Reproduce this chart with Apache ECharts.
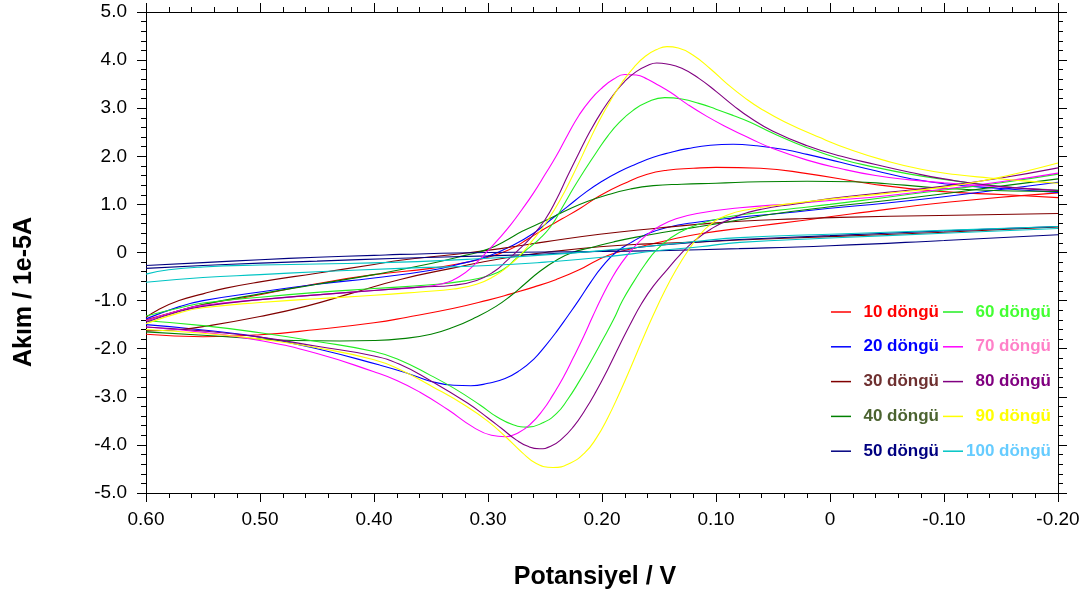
<!DOCTYPE html>
<html>
<head>
<meta charset="utf-8">
<script src="https://cdn.jsdelivr.net/npm/echarts@6/dist/echarts.min.js"></script>
<style>
  html, body { margin: 0; padding: 0; background: #fff; }
  #chart { width: 1088px; height: 596px; }
</style>
</head>
<body>
<div id="chart"></div>
<script>
// Cyclic voltammograms: potential (V) vs current (1e-5 A), cycles 10..100.
// Each cycle: forward sweep 0.60 -> -0.20 V and reverse sweep -0.20 -> 0.60 V.

const cycleNames = ['10 döngü', '20 döngü', '30 döngü', '40 döngü', '50 döngü',
                    '60 döngü', '70 döngü', '80 döngü', '90 döngü', '100 döngü'];
const lineColors = ['#ff0000', '#0000ff', '#800000', '#008000', '#000080',
                    '#22ee22', '#ff00ff', '#800080', '#ffff00', '#00c4c4'];
const labelColors = ['#ff0000', '#0000ff', '#6e3030', '#4b6330', '#000080',
                     '#44ff33', '#ff80c8', '#800080', '#ffff00', '#66ccff'];

// 10 döngü
const c10Fwd = [[0.60,-1.40],[0.57,-1.20],[0.55,-1.08],[0.512,-0.93],[0.453,-0.66],[0.40,-0.46],[0.35,-0.33],[0.318,-0.20],[0.30,-0.10],[0.281,0.06],[0.265,0.28],[0.25,0.50],[0.235,0.70],[0.219,0.92],[0.202,1.18],[0.18,1.44],[0.161,1.62],[0.143,1.71],[0.12,1.75],[0.10,1.77],[0.061,1.75],[0.02,1.64],[-0.038,1.42],[-0.096,1.27],[-0.155,1.20],[-0.20,1.14]];
const c10Rev = [[-0.20,1.24],[-0.105,1.05],[-0.018,0.80],[0.026,0.66],[0.07,0.53],[0.114,0.39],[0.145,0.24],[0.17,0.10],[0.19,-0.02],[0.205,-0.17],[0.22,-0.36],[0.24,-0.56],[0.26,-0.72],[0.28,-0.86],[0.30,-0.99],[0.33,-1.16],[0.372,-1.35],[0.40,-1.46],[0.45,-1.60],[0.50,-1.71],[0.55,-1.75],[0.60,-1.70]];

// 20 döngü
const c20Fwd = [[0.60,-1.38],[0.57,-1.12],[0.55,-1.00],[0.50,-0.82],[0.45,-0.66],[0.40,-0.53],[0.35,-0.37],[0.32,-0.21],[0.30,-0.08],[0.28,0.13],[0.26,0.40],[0.245,0.68],[0.23,0.96],[0.215,1.24],[0.20,1.48],[0.185,1.68],[0.17,1.84],[0.155,1.98],[0.14,2.08],[0.125,2.16],[0.105,2.23],[0.085,2.25],[0.065,2.22],[0.04,2.14],[0.02,2.04],[-0.01,1.87],[-0.04,1.70],[-0.07,1.54],[-0.10,1.43],[-0.15,1.33],[-0.20,1.25]];
const c20Rev = [[-0.20,1.46],[-0.15,1.31],[-0.10,1.16],[-0.05,1.03],[0.00,0.92],[0.04,0.82],[0.08,0.73],[0.12,0.62],[0.143,0.52],[0.16,0.39],[0.175,0.20],[0.188,0.00],[0.20,-0.30],[0.21,-0.62],[0.22,-0.98],[0.23,-1.32],[0.24,-1.65],[0.25,-1.95],[0.26,-2.22],[0.272,-2.45],[0.285,-2.62],[0.30,-2.72],[0.315,-2.77],[0.33,-2.76],[0.35,-2.68],[0.372,-2.50],[0.395,-2.34],[0.45,-2.00],[0.50,-1.76],[0.55,-1.61],[0.60,-1.50]];

// 30 döngü
const c30Fwd = [[0.60,-1.35],[0.59,-1.20],[0.571,-1.00],[0.55,-0.86],[0.53,-0.74],[0.50,-0.61],[0.45,-0.43],[0.40,-0.25],[0.377,-0.16],[0.33,-0.04],[0.289,0.08],[0.25,0.22],[0.202,0.38],[0.15,0.51],[0.114,0.59],[0.079,0.65],[0.03,0.70],[-0.009,0.73],[-0.096,0.77],[-0.20,0.81]];
const c30Rev = [[-0.20,0.53],[-0.10,0.42],[0.00,0.33],[0.079,0.26],[0.114,0.22],[0.16,0.18],[0.202,0.12],[0.25,0.00],[0.289,-0.13],[0.33,-0.32],[0.377,-0.56],[0.42,-0.85],[0.46,-1.12],[0.50,-1.33],[0.547,-1.53],[0.57,-1.60],[0.60,-1.63]];

// 40 döngü
const c40Fwd = [[0.60,-1.42],[0.57,-1.20],[0.55,-1.08],[0.50,-0.86],[0.45,-0.66],[0.40,-0.46],[0.35,-0.23],[0.32,-0.06],[0.30,0.07],[0.285,0.24],[0.27,0.44],[0.25,0.66],[0.23,0.89],[0.213,1.06],[0.195,1.20],[0.175,1.32],[0.155,1.39],[0.13,1.42],[0.10,1.44],[0.061,1.47],[0.02,1.48],[-0.02,1.47],[-0.05,1.43],[-0.08,1.37],[-0.12,1.31],[-0.16,1.28],[-0.20,1.27]];
const c40Rev = [[-0.20,1.53],[-0.15,1.38],[-0.10,1.22],[-0.05,1.08],[0.00,0.95],[0.05,0.80],[0.079,0.68],[0.114,0.54],[0.143,0.43],[0.17,0.32],[0.19,0.22],[0.21,0.10],[0.226,0.00],[0.24,-0.16],[0.255,-0.40],[0.268,-0.66],[0.28,-0.90],[0.293,-1.12],[0.31,-1.34],[0.33,-1.55],[0.35,-1.70],[0.375,-1.79],[0.40,-1.83],[0.43,-1.84],[0.47,-1.83],[0.50,-1.80],[0.55,-1.72],[0.60,-1.65]];

// 50 döngü
const c50Fwd = [[0.60,-0.27],[0.55,-0.21],[0.50,-0.15],[0.45,-0.10],[0.40,-0.06],[0.377,-0.04],[0.30,0.00],[0.20,0.02],[0.15,0.04],[0.08,0.08],[0.00,0.14],[-0.10,0.25],[-0.20,0.37]];
const c50Rev = [[-0.20,0.54],[-0.10,0.45],[0.00,0.35],[0.08,0.27],[0.114,0.22],[0.15,0.15],[0.20,0.03],[0.25,-0.03],[0.30,-0.07],[0.377,-0.12],[0.45,-0.18],[0.50,-0.22],[0.55,-0.27],[0.60,-0.33]];

// 60 döngü
const c60Fwd = [[0.60,-1.32],[0.57,-1.15],[0.55,-1.05],[0.50,-0.93],[0.45,-0.83],[0.40,-0.75],[0.35,-0.67],[0.32,-0.59],[0.30,-0.49],[0.287,-0.36],[0.275,-0.12],[0.265,0.08],[0.255,0.28],[0.245,0.54],[0.235,0.93],[0.225,1.34],[0.215,1.72],[0.205,2.08],[0.195,2.42],[0.185,2.70],[0.173,2.95],[0.16,3.13],[0.145,3.22],[0.13,3.19],[0.115,3.10],[0.10,2.98],[0.085,2.85],[0.07,2.71],[0.05,2.48],[0.02,2.18],[-0.01,1.94],[-0.04,1.77],[-0.07,1.63],[-0.10,1.52],[-0.15,1.37],[-0.20,1.30]];
const c60Rev = [[-0.20,1.63],[-0.15,1.45],[-0.10,1.30],[-0.05,1.15],[0.00,1.00],[0.03,0.92],[0.079,0.78],[0.105,0.66],[0.125,0.50],[0.14,0.30],[0.152,0.06],[0.162,-0.24],[0.172,-0.60],[0.182,-1.00],[0.19,-1.40],[0.20,-1.84],[0.21,-2.27],[0.22,-2.68],[0.23,-3.05],[0.24,-3.35],[0.252,-3.54],[0.265,-3.63],[0.278,-3.58],[0.292,-3.42],[0.307,-3.17],[0.33,-2.82],[0.35,-2.56],[0.377,-2.24],[0.40,-2.06],[0.45,-1.85],[0.50,-1.67],[0.55,-1.52],[0.60,-1.42]];

// 70 döngü
const c70Fwd = [[0.60,-1.42],[0.57,-1.20],[0.55,-1.10],[0.50,-0.98],[0.45,-0.88],[0.40,-0.79],[0.36,-0.72],[0.34,-0.65],[0.325,-0.50],[0.313,-0.28],[0.30,0.04],[0.29,0.30],[0.28,0.58],[0.27,0.90],[0.26,1.24],[0.25,1.62],[0.24,2.01],[0.23,2.45],[0.22,2.86],[0.21,3.18],[0.20,3.42],[0.19,3.60],[0.18,3.70],[0.17,3.69],[0.16,3.60],[0.15,3.47],[0.14,3.33],[0.125,3.08],[0.108,2.83],[0.09,2.60],[0.07,2.37],[0.05,2.16],[0.02,1.92],[-0.01,1.74],[-0.04,1.60],[-0.07,1.51],[-0.10,1.45],[-0.14,1.38],[-0.20,1.29]];
const c70Rev = [[-0.20,1.65],[-0.15,1.47],[-0.10,1.32],[-0.05,1.18],[0.00,1.08],[0.03,1.02],[0.079,0.93],[0.114,0.82],[0.135,0.70],[0.15,0.54],[0.163,0.32],[0.173,0.08],[0.183,-0.22],[0.192,-0.56],[0.20,-0.92],[0.208,-1.32],[0.216,-1.74],[0.225,-2.18],[0.234,-2.60],[0.243,-2.96],[0.252,-3.28],[0.262,-3.55],[0.273,-3.74],[0.285,-3.83],[0.297,-3.80],[0.313,-3.63],[0.335,-3.27],[0.36,-2.90],[0.38,-2.66],[0.40,-2.48],[0.45,-2.10],[0.50,-1.83],[0.55,-1.66],[0.60,-1.55]];

// 80 döngü
const c80Fwd = [[0.60,-1.45],[0.57,-1.22],[0.55,-1.12],[0.50,-0.98],[0.45,-0.88],[0.40,-0.79],[0.36,-0.72],[0.33,-0.68],[0.31,-0.58],[0.295,-0.40],[0.283,-0.16],[0.273,0.06],[0.262,0.32],[0.25,0.68],[0.24,1.10],[0.23,1.60],[0.22,2.08],[0.21,2.54],[0.20,2.94],[0.19,3.28],[0.18,3.56],[0.17,3.76],[0.16,3.89],[0.152,3.94],[0.143,3.92],[0.13,3.83],[0.115,3.62],[0.10,3.35],[0.085,3.06],[0.07,2.80],[0.05,2.52],[0.02,2.22],[-0.01,2.00],[-0.04,1.83],[-0.07,1.67],[-0.10,1.53],[-0.15,1.37],[-0.20,1.29]];
const c80Rev = [[-0.20,1.76],[-0.15,1.55],[-0.10,1.38],[-0.05,1.25],[0.00,1.12],[0.03,1.01],[0.06,0.90],[0.085,0.72],[0.105,0.48],[0.12,0.22],[0.132,-0.06],[0.143,-0.36],[0.155,-0.70],[0.165,-1.05],[0.175,-1.48],[0.185,-1.95],[0.195,-2.43],[0.205,-2.88],[0.215,-3.28],[0.225,-3.62],[0.235,-3.87],[0.245,-4.03],[0.255,-4.08],[0.265,-4.03],[0.275,-3.90],[0.288,-3.66],[0.30,-3.44],[0.318,-3.13],[0.35,-2.67],[0.377,-2.33],[0.40,-2.15],[0.45,-1.95],[0.50,-1.76],[0.55,-1.63],[0.60,-1.55]];

// 90 döngü
const c90Fwd = [[0.60,-1.48],[0.57,-1.25],[0.55,-1.15],[0.50,-1.04],[0.45,-0.96],[0.40,-0.89],[0.36,-0.82],[0.33,-0.76],[0.31,-0.66],[0.295,-0.50],[0.283,-0.30],[0.272,-0.06],[0.262,0.22],[0.252,0.52],[0.242,0.88],[0.232,1.30],[0.222,1.78],[0.212,2.28],[0.202,2.76],[0.192,3.18],[0.182,3.55],[0.172,3.85],[0.162,4.08],[0.152,4.22],[0.143,4.28],[0.133,4.25],[0.12,4.10],[0.105,3.82],[0.09,3.50],[0.075,3.22],[0.06,2.98],[0.04,2.72],[0.01,2.40],[-0.02,2.12],[-0.05,1.90],[-0.08,1.73],[-0.11,1.62],[-0.14,1.55],[-0.17,1.49],[-0.20,1.44]];
const c90Rev = [[-0.20,1.86],[-0.17,1.68],[-0.14,1.52],[-0.10,1.36],[-0.05,1.23],[0.00,1.11],[0.04,1.00],[0.07,0.90],[0.09,0.78],[0.105,0.58],[0.115,0.34],[0.125,0.02],[0.135,-0.36],[0.145,-0.80],[0.155,-1.30],[0.165,-1.84],[0.175,-2.40],[0.185,-2.94],[0.195,-3.44],[0.205,-3.86],[0.215,-4.16],[0.228,-4.38],[0.243,-4.47],[0.258,-4.38],[0.27,-4.16],[0.285,-3.82],[0.30,-3.51],[0.32,-3.18],[0.348,-2.80],[0.377,-2.44],[0.40,-2.23],[0.45,-1.98],[0.50,-1.80],[0.55,-1.68],[0.60,-1.60]];

// 100 döngü
const c100Fwd = [[0.60,-0.45],[0.58,-0.36],[0.55,-0.30],[0.50,-0.26],[0.45,-0.24],[0.377,-0.20],[0.30,-0.12],[0.25,-0.05],[0.20,0.04],[0.15,0.15],[0.114,0.24],[0.079,0.31],[0.00,0.38],[-0.10,0.46],[-0.20,0.54]];
const c100Rev = [[-0.20,0.50],[-0.10,0.40],[0.00,0.30],[0.079,0.21],[0.114,0.12],[0.15,0.04],[0.20,-0.10],[0.25,-0.20],[0.30,-0.27],[0.377,-0.33],[0.45,-0.40],[0.50,-0.46],[0.55,-0.52],[0.60,-0.62]];

const sweeps = [
  [c10Fwd, c10Rev], [c20Fwd, c20Rev], [c30Fwd, c30Rev], [c40Fwd, c40Rev], [c50Fwd, c50Rev],
  [c60Fwd, c60Rev], [c70Fwd, c70Rev], [c80Fwd, c80Rev], [c90Fwd, c90Rev], [c100Fwd, c100Rev]
];

const FONT = '"Liberation Sans", Arial, sans-serif';

const series = [];
sweeps.forEach((pair, i) => {
  pair.forEach(branch => {
    series.push({
      name: cycleNames[i],
      type: 'line',
      data: branch,
      showSymbol: false,
      smooth: 0.5,
      clip: true,
      color: lineColors[i],
      lineStyle: { width: 1.1, color: lineColors[i] },
      emphasis: { disabled: true },
      animation: false
    });
  });
});

function legendItem(i) {
  const c = labelColors[i];
  return {
    name: cycleNames[i],
    textStyle: {
      color: c,
      rich: { t: { width: 83, align: 'right', color: c, fontSize: 17, fontWeight: 'bold', fontFamily: FONT, lineHeight: 18 } }
    }
  };
}

function legendCol(left, from) {
  return {
    orient: 'vertical',
    left: left,
    top: 303,
    padding: 0,
    itemGap: 16.8,
    itemWidth: 20,
    itemHeight: 1.5,
    icon: 'rect',
    selectedMode: false,
    formatter: '{t|{name}}',
    textStyle: { fontSize: 17, fontWeight: 'bold', fontFamily: FONT, lineHeight: 18 },
    data: [0, 1, 2, 3, 4].map(k => legendItem(from + k))
  };
}

const tickStyle = { color: '#000', width: 1 };

function xAxisDef(pos, labels) {
  return {
    type: 'value',
    position: pos,
    inverse: true,
    min: -0.2,
    max: 0.6,
    interval: 0.1,
    axisLine: { show: true, onZero: false, lineStyle: tickStyle },
    axisTick: { show: true, length: 9, lineStyle: tickStyle },
    minorTick: { show: true, splitNumber: 5, length: 5, lineStyle: tickStyle },
    splitLine: { show: false },
    minorSplitLine: { show: false },
    axisLabel: {
      show: labels,
      margin: 17,
      fontSize: 19,
      fontFamily: FONT,
      color: '#000',
      formatter: v => (Math.abs(v) < 1e-9 ? '0' : v.toFixed(2))
    }
  };
}

function yAxisDef(pos, labels) {
  return {
    type: 'value',
    position: pos,
    min: -5,
    max: 5,
    interval: 1,
    axisLine: { show: true, onZero: false, lineStyle: tickStyle },
    axisTick: { show: true, length: 9, lineStyle: tickStyle },
    minorTick: { show: true, splitNumber: 5, length: 5, lineStyle: tickStyle },
    splitLine: { show: false },
    minorSplitLine: { show: false },
    axisLabel: {
      show: labels,
      margin: 19,
      fontSize: 19,
      fontFamily: FONT,
      color: '#000',
      formatter: v => (Math.abs(v) < 1e-9 ? '0' : v.toFixed(1))
    }
  };
}

const chart = echarts.init(document.getElementById('chart'), null, { renderer: 'canvas' });
chart.setOption({
  backgroundColor: '#ffffff',
  animation: false,
  grid: { left: 146, right: 30, top: 12, bottom: 103, containLabel: false },
  xAxis: [xAxisDef('bottom', true), xAxisDef('top', false)],
  yAxis: [yAxisDef('left', true), yAxisDef('right', false)],
  legend: [legendCol(831, 0), legendCol(943, 5)],
  graphic: [
    {
      type: 'text',
      x: 595, y: 577,
      style: { text: 'Potansiyel / V', font: 'bold 25px ' + FONT, fill: '#000', align: 'center', verticalAlign: 'middle' }
    },
    {
      type: 'text',
      x: 24, y: 292,
      rotation: Math.PI / 2,
      style: { text: 'Akım / 1e-5A', font: 'bold 25px ' + FONT, fill: '#000', align: 'center', verticalAlign: 'middle' }
    }
  ],
  series: series
});
</script>
</body>
</html>
